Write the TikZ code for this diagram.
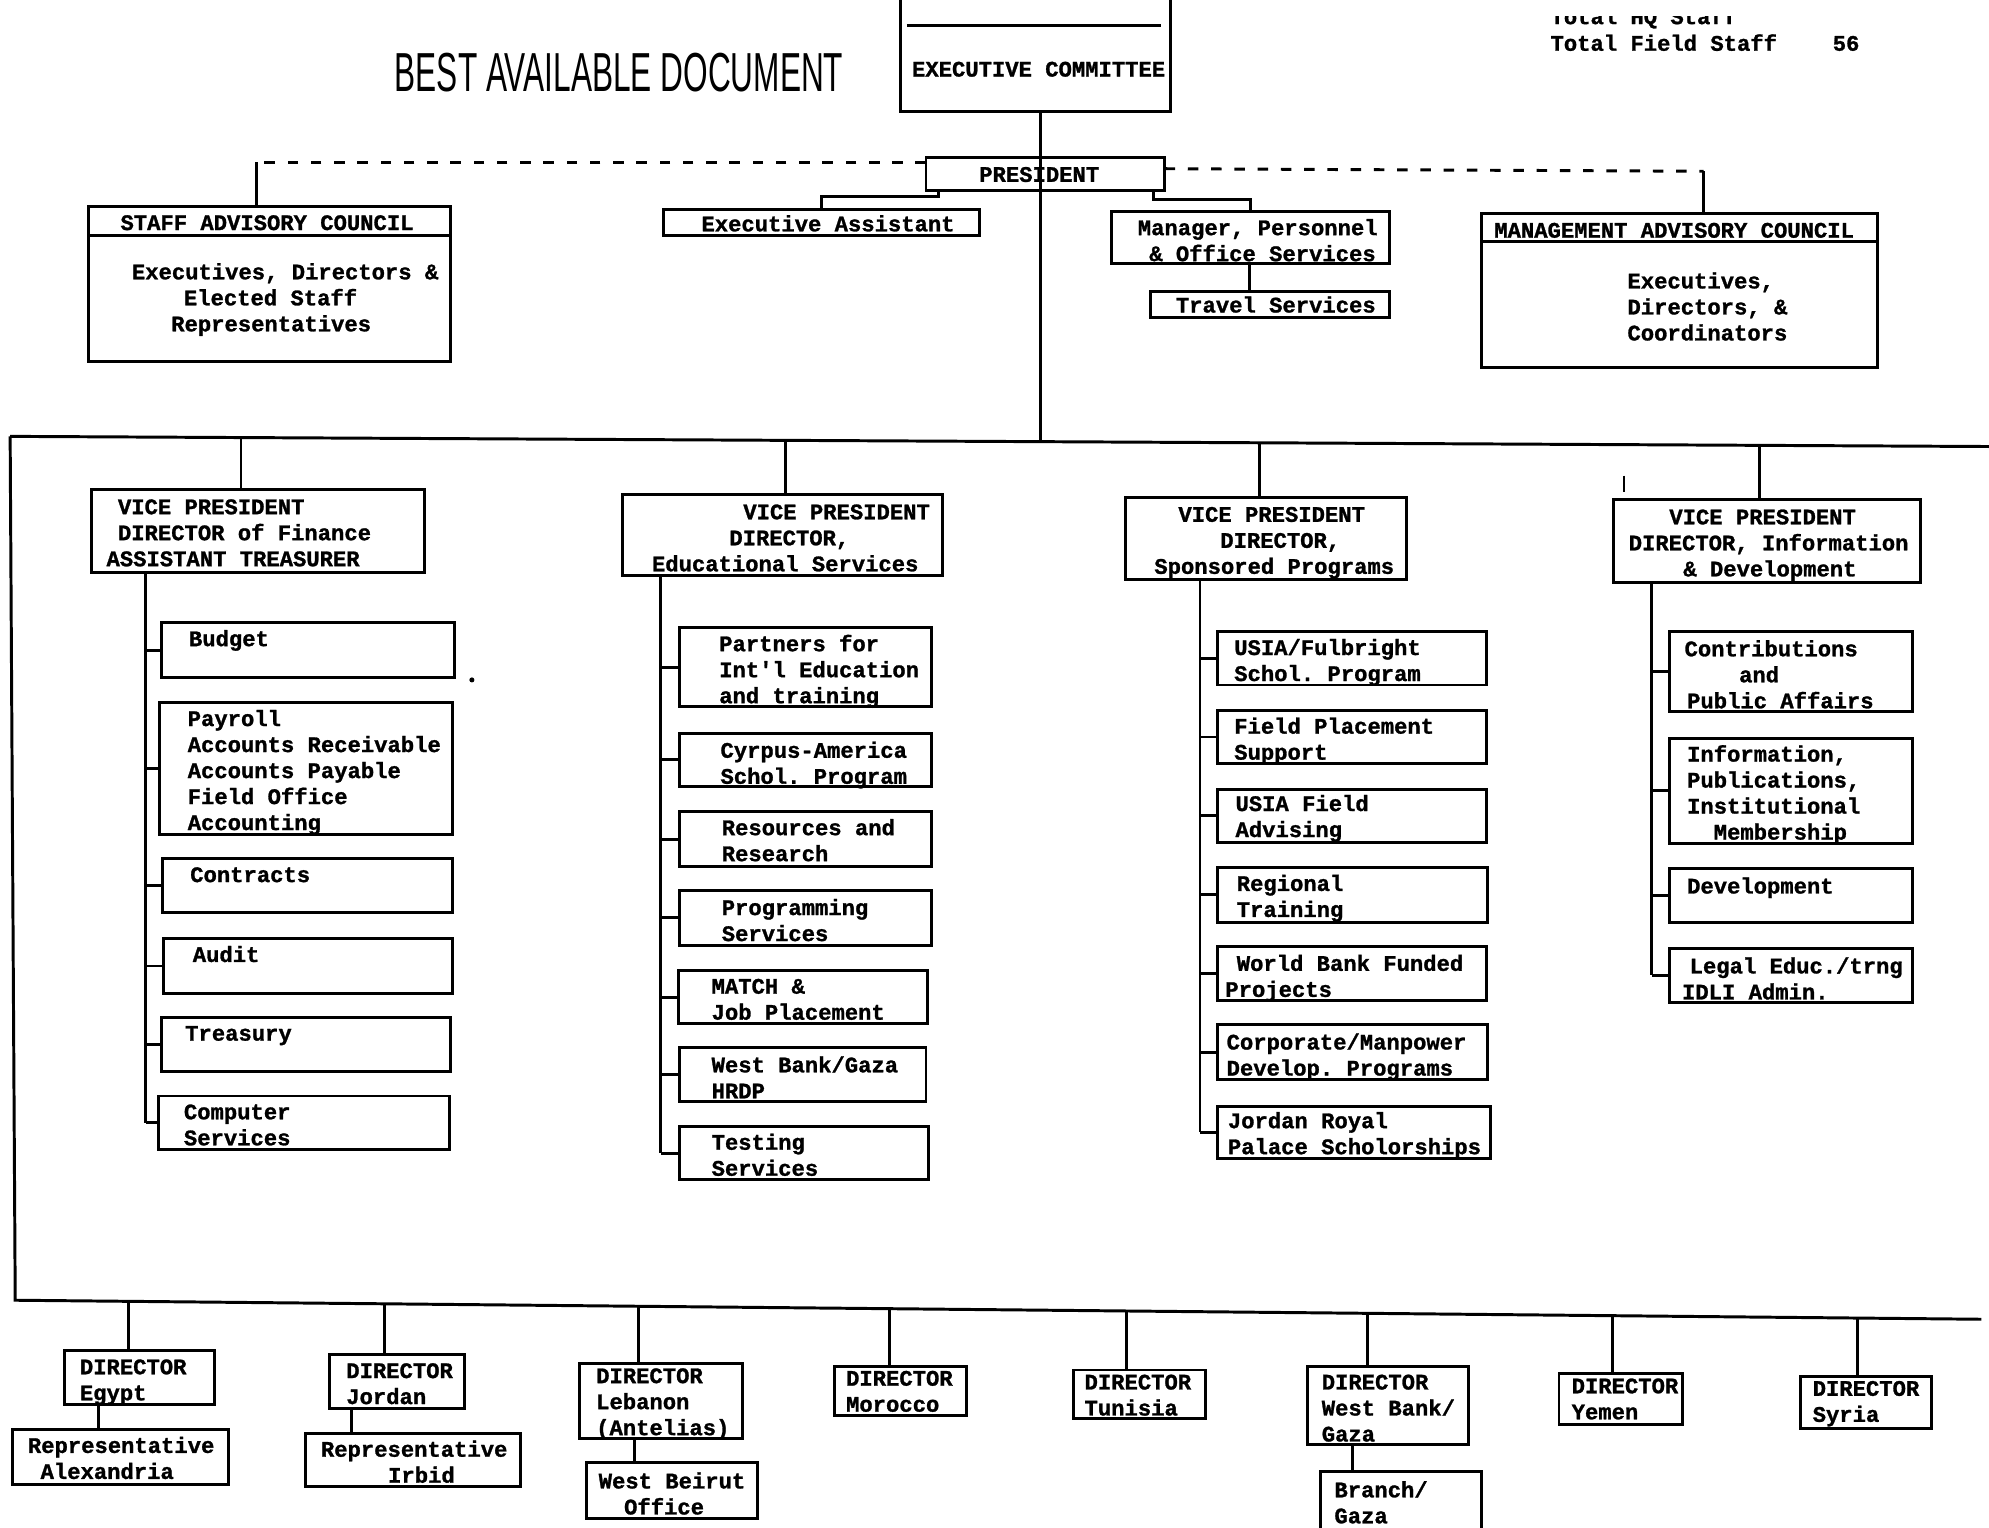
\documentclass[tikz,border=0pt]{standalone}
\usepackage{fontspec}
\usetikzlibrary{calc}
\newfontfamily\twf{Liberation Mono}[BoldFeatures={FakeBold=1.2}]
\newfontfamily\bestf{Liberation Sans}[FakeStretch=0.575]
\newcommand\bodyfont{\twf\bfseries\fontsize{10.5pt}{12.3pt}\selectfont}
\newcommand\ii[1]{\hspace*{\dimexpr 0.6pt*#1\relax}}
\newcommand\obox[8][]{%
 \pgfmathsetlengthmacro\oboxw{(#5-#3)*0.6pt}%
 \pgfmathsetlengthmacro\oboxh{(#6-#4)*0.6pt}%
 \pgfmathsetlengthmacro\oboxp{(#7)*0.6pt}%
 \node[bx,#1] (#2) at ({(#3+#5)/2},{(#4+#6)/2}) {\parbox[c][\oboxh][t]{\oboxw}{\raggedright\vspace*{\oboxp}\strut #8}};}
\tikzset{
 bx/.style={draw, line width=1.4pt, inner sep=0pt, outer sep=0pt, font=\bodyfont},
 ln/.style={line width=1.4pt},
 dsh/.style={line width=1.4pt, dash pattern=on 5pt off 6pt}
}
\frenchspacing
\begin{document}
\begin{tikzpicture}[x=0.6pt,y=-0.6pt]
\useasboundingbox (0,0) rectangle (1568,1204);
\fill[white] (0,0) rectangle (1568,1204);
\clip (0,0) rectangle (1568,1204);

% title and totals
\node[font=\bestf\fontsize{26pt}{30pt}\selectfont, inner sep=0pt] (bad) at (488,57) {BEST AVAILABLE DOCUMENT};
\node[font=\bodyfont, anchor=base west, inner sep=0pt] (tfs) at (1222,40) {Total Field Staff\ii{44}56};
\begin{scope}
\clip (1100,13) rectangle (1568,30);
\node[font=\bodyfont, anchor=base west, inner sep=0pt] (ths) at (1222,19) {Total HQ Staff};
\end{scope}

% top level
\obox{exec}{710}{-10}{923}{88}{56}{\ii{9}EXECUTIVE COMMITTEE}
\draw[ln] (715,20) -- (915,20);
\obox{pres}{730}{124}{918}{150}{5}{\ii{42}PRESIDENT}
\obox{ea}{523}{165}{772}{186}{3}{\ii{30}Executive Assistant}
\obox{mgr}{876}{167}{1095}{208}{4}{\ii{21}Manager, Personnel\\\ii{30}\& Office Services}
\obox{trav}{907}{230}{1095}{250}{2}{\ii{20}Travel Services}
\obox{sac}{70}{163}{355}{285}{4}{\ii{25}STAFF ADVISORY COUNCIL\\[11pt]\ii{34}Executives, Directors \&\\\ii{75}Elected Staff\\\ii{65}Representatives}
\draw[ln] (sac.west |- 0,186) -- (sac.east |- 0,186);
\obox{mac}{1168}{168}{1480}{290}{5}{\ii{10}MANAGEMENT ADVISORY COUNCIL\\[11.7pt]\ii{115}Executives,\\\ii{115}Directors, \&\\\ii{115}Coordinators}
\draw[ln] (mac.west |- 0,190) -- (mac.east |- 0,190);

% frame bars
\coordinate (tbl) at (8,344);
\coordinate (tbr) at (1568,352);
\coordinate (bbl) at (12,1025);
\coordinate (bbr) at (1562,1040);
\draw[ln] (tbl) -- (tbr);
\draw[ln] (tbl) -- (bbl) -- (bbr);

% top connectors
\coordinate (xm) at ($(tbl)!{(820-8)/1560}!(tbr)$);
\draw[ln] (exec.south -| xm) -- (xm);
\coordinate (dl) at (202,128);
\coordinate (dr) at (1343,135);
\draw[dsh] (pres.west |- 0,128) -- (dl);
\draw[ln] (dl) -- (dl |- sac.north);
\draw[dsh] (pres.east |- 0,133) -- (dr);
\draw[ln] (dr) -- (dr |- mac.north);
\draw[ln] (pres.south west) ++(10,0) -- ++(0,5) -| (ea.north);
\draw[ln] (pres.south east) ++(-9,0) -- ++(0,7) -| (mgr.north);
\coordinate (tv) at (985,0);
\draw[ln] (mgr.south -| tv) -- (trav.north -| tv);

% vice presidents
\obox{vpa}{72}{386}{335}{451}{5}{\ii{21}VICE PRESIDENT\\\ii{21}DIRECTOR of Finance\\\ii{12}ASSISTANT TREASURER}
\obox{vpb}{491}{390}{743}{454}{5}{\ii{95}VICE PRESIDENT\\\ii{84}DIRECTOR,\\\ii{23}Educational Services}
\obox{vpc}{887}{392}{1109}{457}{5}{\ii{42}VICE PRESIDENT\\\ii{75}DIRECTOR,\\\ii{23}Sponsored Programs}
\obox{vpd}{1272}{394}{1514}{459}{5}{\ii{44}VICE PRESIDENT\\\ii{12}DIRECTOR, Information\\\ii{55}\& Development}
\foreach \xx/\nn in {190/vpa,619/vpb,993/vpc,1387/vpd}{
 \coordinate (t\nn) at ($(tbl)!{(\xx-8)/1560}!(tbr)$);
 \draw[ln] (t\nn) -- (t\nn |- \nn.north);
}
\draw[line width=0.8pt] (1280,375) -- (1280,388);
\fill (372,536) circle (1.2pt);

% finance
\obox{a1}{127}{491}{358}{534}{4}{\ii{22}Budget}
\obox{a2}{126}{554}{357}{658}{4}{\ii{22}Payroll\\\ii{22}Accounts Receivable\\\ii{22}Accounts Payable\\\ii{22}Field Office\\\ii{22}Accounting}
\obox{a3}{128}{677}{357}{719}{4}{\ii{22}Contracts}
\obox{a4}{129}{740}{357}{783}{4}{\ii{23}Audit}
\obox{a5}{127}{802}{355}{845}{4}{\ii{19}Treasury}
\obox{a6}{125}{864}{354}{906}{4}{\ii{20}Computer\\\ii{20}Services}
\coordinate (sa) at (115,0);
\draw[ln] (vpa.south -| sa) -- (sa |- a6.west);
\foreach \k in {a1,a2,a3,a4,a5,a6}{\draw[ln] (sa |- \k.west) -- (\k.west);}

% educational services
\obox{b1}{536}{495}{734}{557}{4}{\ii{31}Partners for\\\ii{31}Int'l Education\\\ii{31}and training}
\obox{b2}{536}{578}{734}{620}{5}{\ii{32}Cyrpus-America\\\ii{32}Schol. Program}
\obox{b3}{536}{640}{734}{683}{4}{\ii{33}Resources and\\\ii{33}Research}
\obox{b4}{536}{702}{734}{745}{5}{\ii{33}Programming\\\ii{33}Services}
\obox{b5}{535}{765}{731}{807}{4}{\ii{26}MATCH \&\\\ii{26}Job Placement}
\obox{b6}{536}{826}{730}{868}{5}{\ii{25}West Bank/Gaza\\\ii{25}HRDP}
\obox{b7}{536}{888}{732}{930}{4}{\ii{25}Testing\\\ii{25}Services}
\coordinate (sb) at (521,0);
\draw[ln] (vpb.south -| sb) -- (sb |- b7.west);
\foreach \k in {b1,b2,b3,b4,b5,b6,b7}{\draw[ln] (sb |- \k.west) -- (\k.west);}

% sponsored programs
\obox{c1}{960}{498}{1172}{540}{4}{\ii{13}USIA/Fulbright\\\ii{13}Schol. Program}
\obox{c2}{960}{560}{1172}{602}{4}{\ii{13}Field Placement\\\ii{13}Support}
\obox{c3}{960}{622}{1172}{664}{3}{\ii{14}USIA Field\\\ii{14}Advising}
\obox{c4}{960}{684}{1173}{727}{4}{\ii{15}Regional\\\ii{15}Training}
\obox{c5}{960}{746}{1172}{789}{5}{\ii{15}World Bank Funded\\\ii{6}Projects}
\obox{c6}{960}{808}{1173}{851}{5}{\ii{7}Corporate/Manpower\\\ii{7}Develop. Programs}
\obox{c7}{960}{872}{1175}{913}{3}{\ii{8}Jordan Royal\\\ii{8}Palace Scholorships}
\coordinate (sc) at (946,0);
\draw[ln] (vpc.south -| sc) -- (sc |- c7.west);
\foreach \k in {c1,c2,c3,c4,c5,c6,c7}{\draw[ln] (sc |- \k.west) -- (\k.west);}

% information and development
\obox{d1}{1316}{498}{1508}{561}{5}{\ii{12}Contributions\\\ii{55}and\\\ii{14}Public Affairs}
\obox{d2}{1316}{582}{1508}{665}{4}{\ii{14}Information,\\\ii{14}Publications,\\\ii{14}Institutional\\\ii{35}Membership}
\obox{d3}{1316}{685}{1508}{727}{5}{\ii{14}Development}
\obox{d4}{1316}{748}{1508}{790}{5}{\ii{16}Legal Educ./trng\\\ii{10}IDLI Admin.}
\coordinate (sd) at (1302,0);
\draw[ln] (vpd.south -| sd) -- (sd |- d4.west);
\foreach \k in {d1,d2,d3,d4}{\draw[ln] (sd |- \k.west) -- (\k.west);}

% field directors
\obox{egy}{51}{1065}{169}{1107}{4}{\ii{12}DIRECTOR\\\ii{12}Egypt}
\obox{alex}{10}{1127}{180}{1170}{4}{\ii{12}Representative\\\ii{22}Alexandria}
\obox{jor}{260}{1068}{366}{1110}{4}{\ii{13}DIRECTOR\\\ii{13}Jordan}
\obox{irb}{241}{1130}{410}{1172}{4}{\ii{12}Representative\\\ii{65}Irbid}
\obox{leb}{457}{1075}{585}{1134}{1}{\ii{13}DIRECTOR\\\ii{13}Lebanon\\\ii{13}(Antelias)}
\obox{wbo}{462}{1153}{597}{1197}{6}{\ii{10}West Beirut\\\ii{30}Office}
\obox{mor}{658}{1077}{762}{1116}{1}{\ii{9}DIRECTOR\\\ii{9}Morocco}
\obox{tun}{846}{1080}{950}{1118}{1}{\ii{9}DIRECTOR\\\ii{9}Tunisia}
\obox{wbg}{1031}{1077}{1158}{1139}{4}{\ii{11}DIRECTOR\\\ii{11}West Bank/\\\ii{11}Gaza}
\obox{bra}{1041}{1160}{1168}{1215}{6}{\ii{11}Branch/\\\ii{11}Gaza}
\obox{yem}{1229}{1083}{1326}{1123}{1}{\ii{10}DIRECTOR\\\ii{10}Yemen}
\obox{syr}{1419}{1085}{1523}{1126}{1}{\ii{10}DIRECTOR\\\ii{10}Syria}
\foreach \xx/\nn in {101/egy,303/jor,503/leb,701/mor,888/tun,1078/wbg,1271/yem,1464/syr}{
 \coordinate (q\nn) at ($(bbl)!{(\xx-12)/1550}!(bbr)$);
 \draw[ln] (q\nn) -- (q\nn |- \nn.north);
}
\foreach \xx/\pp/\nn in {78/egy/alex,277/jor/irb,500/leb/wbo,1066/wbg/bra}{
 \coordinate (k\nn) at (\xx,0);
 \draw[ln] (\pp.south -| k\nn) -- (\nn.north -| k\nn);
}
\end{tikzpicture}
\end{document}
